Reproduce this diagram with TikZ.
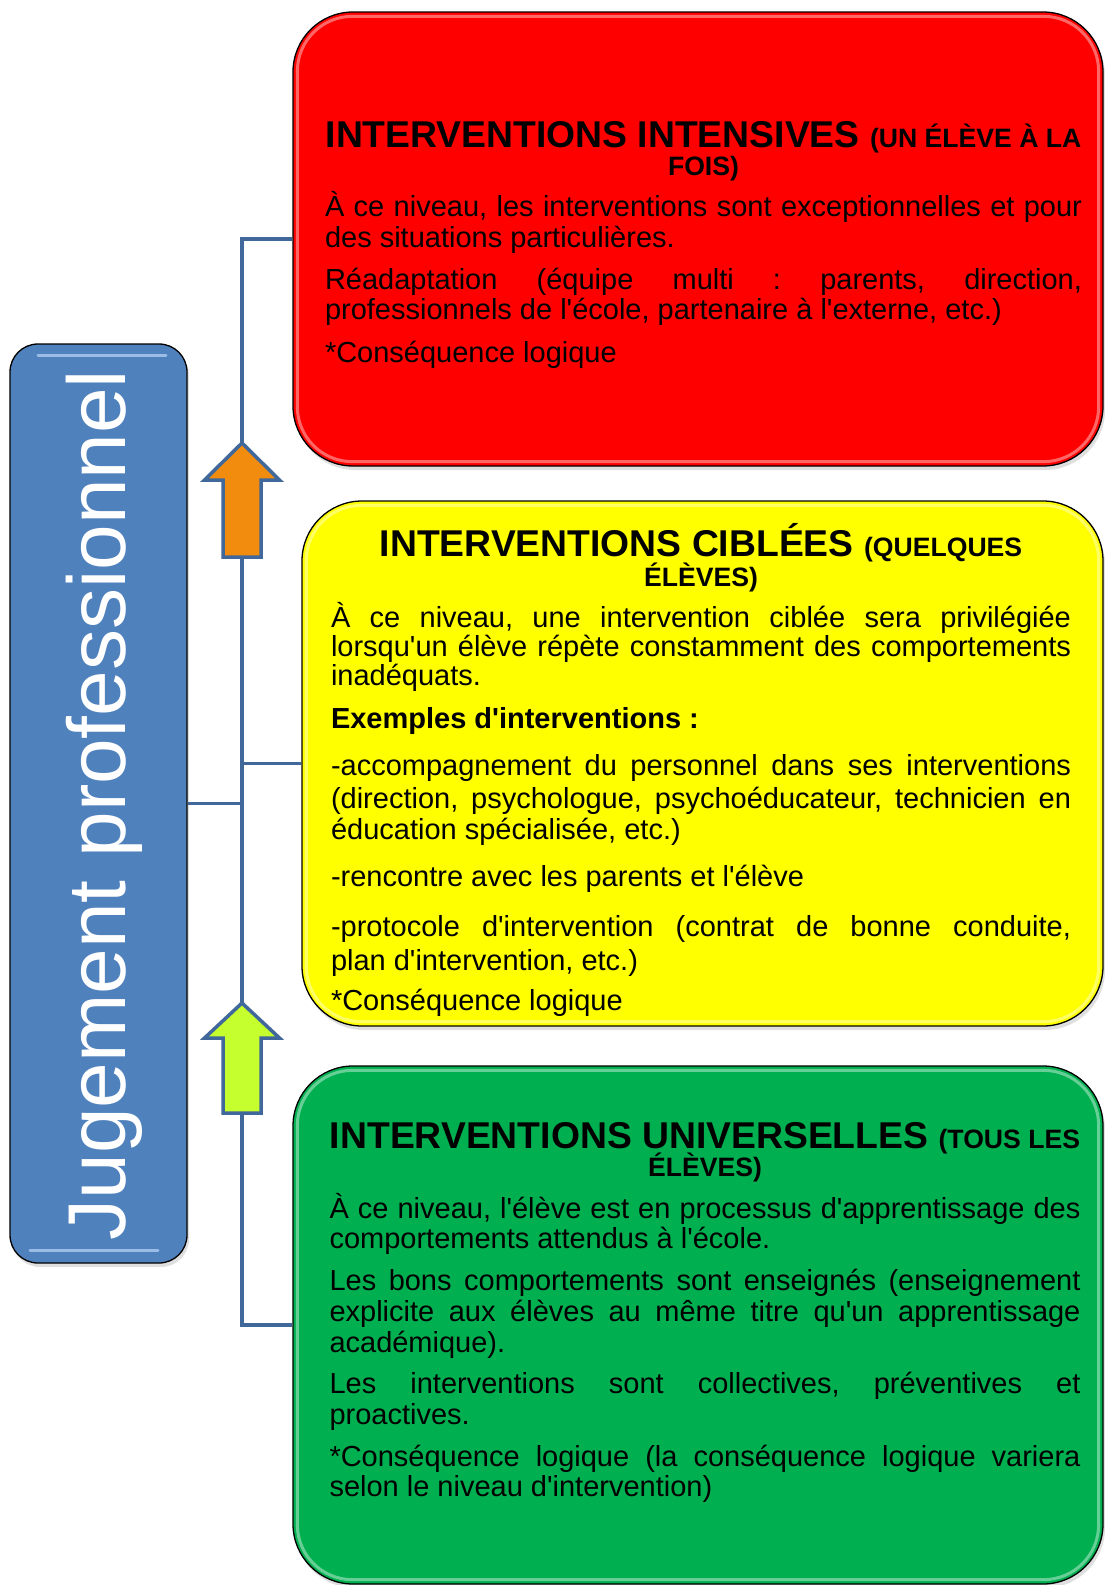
\documentclass[tikz,border=0pt]{standalone}
\usepackage{fontspec}
\setmainfont{Liberation Sans}[Ligatures=TeXOff]
\usetikzlibrary{calc,shadows}
\definecolor{connblue}{RGB}{65,104,155}
\definecolor{rootblue}{RGB}{79,129,189}
\definecolor{boxred}{RGB}{255,0,0}
\definecolor{boxyellow}{RGB}{255,255,0}
\definecolor{boxgreen}{RGB}{0,176,80}
\definecolor{arrorange}{RGB}{242,140,15}
\definecolor{arrlime}{RGB}{197,255,45}
\definecolor{hlblue}{RGB}{175,205,240}
\newcommand\HB{\fontsize{37.3}{40}\selectfont\bfseries}
\newcommand\HS{\fontsize{26.6}{30}\selectfont\bfseries}
\newcommand\TX{\fontsize{29}{32}\selectfont}
\newcommand\JL[2]{{\baselineskip=#1pt\relax\hbox to\hsize{#2}}}
\newcommand\LL[2]{{\baselineskip=#1pt\relax\hbox{#2}}}
\newcommand\CL[2]{{\baselineskip=#1pt\relax\hbox to\hsize{\hss#2\hss}}}
\frenchspacing
\begin{document}
\begin{tikzpicture}[x=1pt,y=-1pt,
  levelbox/.style={draw=black, line width=1.3pt, rounded corners=60pt, inner sep=0pt,
    drop shadow={shadow xshift=2pt, shadow yshift=-4pt, opacity=.25}},
  rootbox/.style={draw=black, line width=1.3pt, rounded corners=28pt, inner sep=0pt,
    fill=rootblue, drop shadow={shadow xshift=2pt, shadow yshift=-4pt, opacity=.25}},
  gloss/.style={draw=white, draw opacity=.4, line width=3pt, rounded corners=55pt},
  conn/.style={draw=connblue, line width=3.5pt},
  uparrow/.style={draw=connblue, line width=3.5pt, line join=miter},
  tbox/.style={anchor=north west, inner sep=0pt, outer sep=0pt, text=black}]
\useasboundingbox (0,0) rectangle (1104,1585);
\fill[white] (0,0) rectangle (1104,1585);

% level boxes
\node[levelbox, fill=boxred, minimum width=810pt, minimum height=454pt] (red) at (698,239) {};
\node[levelbox, fill=boxyellow, minimum width=801pt, minimum height=525pt] (yellow) at (702.5,763.5) {};
\node[levelbox, fill=boxgreen, minimum width=810pt, minimum height=518pt] (green) at (698,1325) {};
\foreach \b in {red,yellow,green}
  \draw[gloss] ($(\b.north west)+(5,5)$) rectangle ($(\b.south east)+(-5,-5)$);

% root box
\node[rootbox, minimum width=177pt, minimum height=919pt] (root) at (98.5,803.5) {};
\draw[hlblue, line width=3pt, line cap=round, opacity=.8] (38,355) -- (166,355);
\draw[hlblue, line width=3pt, line cap=round, opacity=.8] (30,1250) -- (158,1250);
\node[rotate=90, anchor=base, inner sep=0pt, text=white, font=\fontsize{82}{90}\selectfont] (rootlabel) at (125,805) {Jugement professionnel};

% connectors
\coordinate (trunk) at (242,0);
\draw[conn] (root.east) -- (root.east -| trunk) |- (red.west);
\draw[conn] (root.east) -- (root.east -| trunk) |- (yellow.west);
\draw[conn] (root.east) -- (root.east -| trunk) |- (green.west);

% up arrows
\filldraw[uparrow, fill=arrorange] (242,443) -- (279.5,480) -- (261,480) -- (261,557) -- (223,557) -- (223,480) -- (204.5,480) -- cycle;
\filldraw[uparrow, fill=arrlime] (242,1003) -- (279.5,1038) -- (261,1038) -- (261,1113) -- (223,1113) -- (223,1038) -- (204.5,1038) -- cycle;

% texts
\node[tbox] (redtext) at (325,100) {\vbox{\hsize=757pt\TX\lineskiplimit=-1000pt\lineskip=0pt\hbox{}%
\CL{47}{\HB INTERVENTIONS INTENSIVES {\HS (UN ÉLÈVE À LA}}
\CL{28}{\HS FOIS)}
\JL{41.7}{À ce niveau, les interventions sont exceptionnelles et pour}
\LL{30.3}{des situations particulières.}
\JL{42.4}{Réadaptation (équipe multi : parents, direction,}
\LL{30.3}{professionnels de l'école, partenaire à l'externe, etc.)}
\LL{42.3}{*Conséquence logique}
}};

\node[tbox] (yellowtext) at (331,520) {\vbox{\hsize=740pt\TX\lineskiplimit=-1000pt\lineskip=0pt\hbox{}%
\CL{36.7}{\HB INTERVENTIONS CIBLÉES {\HS (QUELQUES}}
\CL{30}{\HS ÉLÈVES)}
\JL{40.3}{À ce niveau, une intervention ciblée sera privilégiée}
\JL{29.7}{lorsqu'un élève répète constamment des comportements}
\LL{29}{inadéquats.}
\LL{42.3}{\bfseries Exemples d'interventions :}
\JL{47}{-accompagnement du personnel dans ses interventions}
\JL{33.3}{(direction, psychologue, psychoéducateur, technicien en}
\LL{31}{éducation spécialisée, etc.)}
\LL{47.4}{-rencontre avec les parents et l'élève}
\JL{50}{-protocole d'intervention (contrat de bonne conduite,}
\LL{33.3}{plan d'intervention, etc.)}
\LL{40}{*Conséquence logique}
}};

\node[tbox] (greentext) at (329.5,1100) {\vbox{\hsize=751pt\TX\lineskiplimit=-1000pt\lineskip=0pt\hbox{}%
\CL{48}{\HB INTERVENTIONS UNIVERSELLES {\HS (TOUS LES}}
\CL{28.7}{\HS ÉLÈVES)}
\JL{41.6}{À ce niveau, l'élève est en processus d'apprentissage des}
\LL{30}{comportements attendus à l'école.}
\JL{41.7}{Les bons comportements sont enseignés (enseignement}
\JL{31.7}{explicite aux élèves au même titre qu'un apprentissage}
\LL{30.3}{académique).}
\JL{41.3}{Les interventions sont collectives, préventives et}
\LL{31.3}{proactives.}
\JL{42.1}{*Conséquence logique (la conséquence logique variera}
\LL{30}{selon le niveau d'intervention)}
}};
\end{tikzpicture}
\end{document}
